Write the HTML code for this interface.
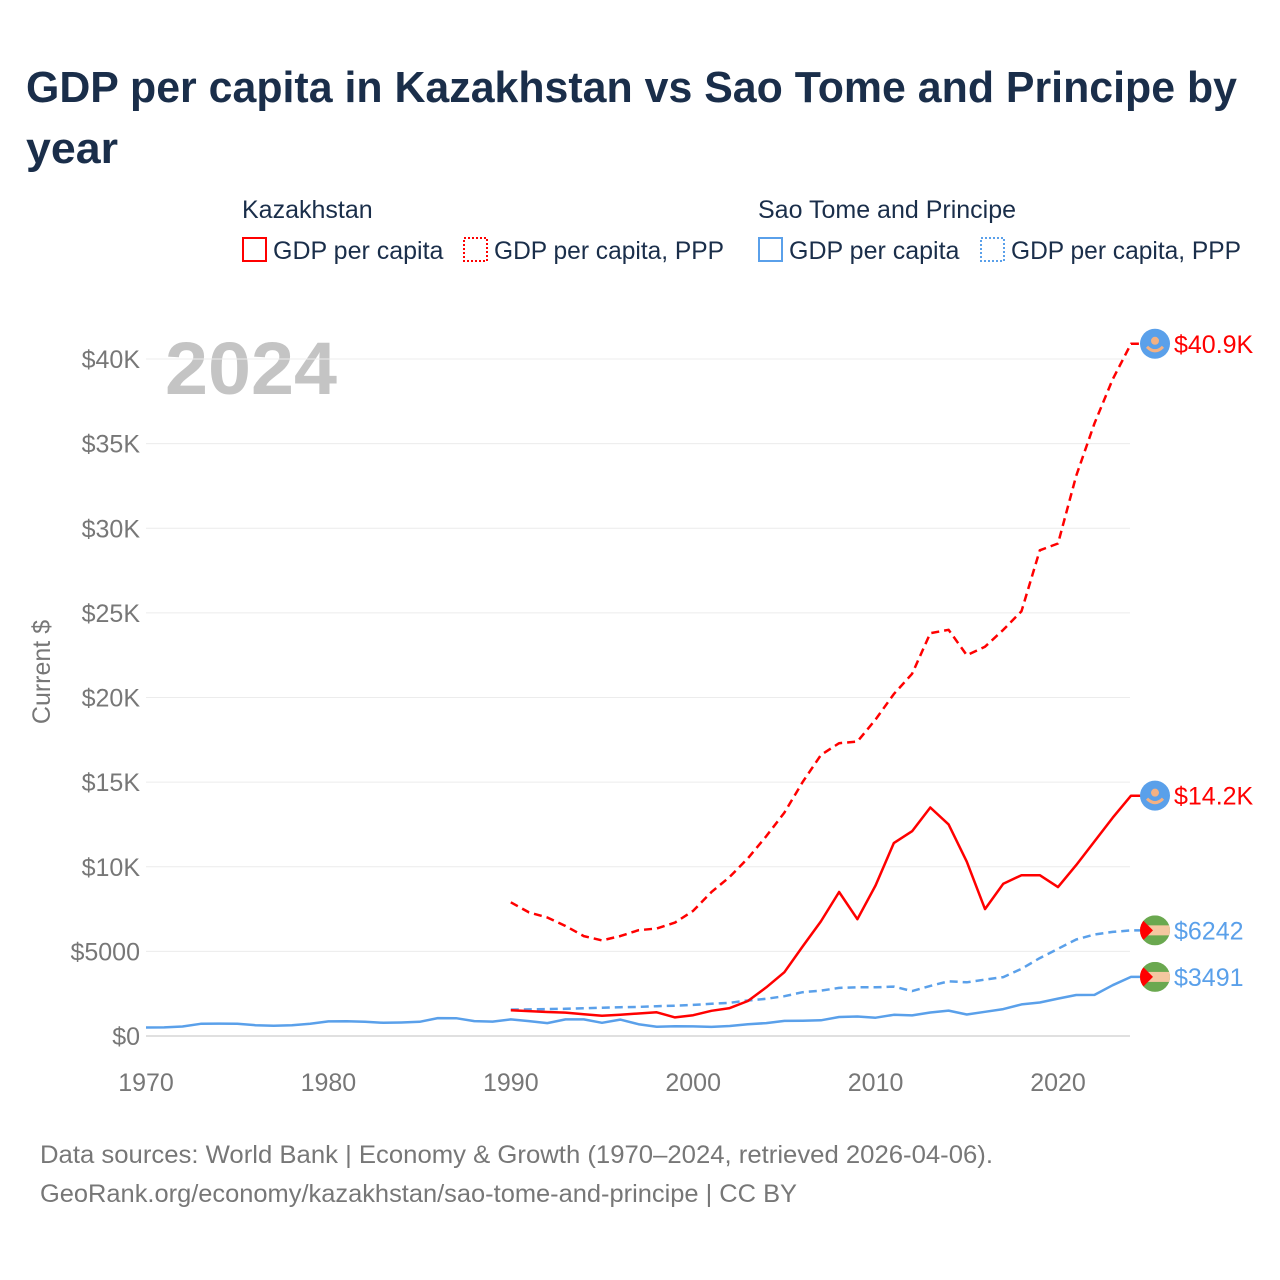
<!DOCTYPE html>
<html><head><meta charset="utf-8"><style>
body{margin:0;background:#fff;font-family:"Liberation Sans",sans-serif;}
#wrap{position:relative;width:1280px;height:1280px;overflow:hidden;}
</style></head><body>
<div id="wrap">
<svg id="chart" width="1280" height="1280" font-family="Liberation Sans, sans-serif">
<text x="26" y="102" font-size="44" font-weight="bold" fill="#1a2e4a" textLength="1211" lengthAdjust="spacingAndGlyphs">GDP per capita in Kazakhstan vs Sao Tome and Principe by</text>
<text x="26" y="163" font-size="44" font-weight="bold" fill="#1a2e4a" textLength="92" lengthAdjust="spacingAndGlyphs">year</text>
<g font-size="25" fill="#1a2e4a">
<text x="242" y="218">Kazakhstan</text>
<rect x="243" y="238" width="23" height="23" fill="none" stroke="#f00" stroke-width="2"/>
<text x="273" y="259">GDP per capita</text>
<rect x="464" y="238" width="23" height="23" fill="none" stroke="#f00" stroke-width="2" stroke-dasharray="2,2"/>
<text x="494" y="259" textLength="230" lengthAdjust="spacingAndGlyphs">GDP per capita, PPP</text>
<text x="758" y="218">Sao Tome and Principe</text>
<rect x="759" y="238" width="23" height="23" fill="none" stroke="#5aa0ea" stroke-width="2"/>
<text x="789" y="259">GDP per capita</text>
<rect x="981" y="238" width="23" height="23" fill="none" stroke="#5aa0ea" stroke-width="2" stroke-dasharray="2,2"/>
<text x="1011" y="259" textLength="230" lengthAdjust="spacingAndGlyphs">GDP per capita, PPP</text>
</g>
<text x="165" y="394" font-size="74" font-weight="bold" fill="#c4c4c4" textLength="172" lengthAdjust="spacingAndGlyphs">2024</text>
<text transform="translate(50,672) rotate(-90)" text-anchor="middle" font-size="25" fill="#777">Current $</text>
<defs><clipPath id="cc1"><circle cx="1155" cy="0" r="15"/></clipPath></defs>
<g id="grid"></g><g id="lines"></g><g id="labels"></g>
<text x="40" y="1163" font-size="25" fill="#777" textLength="953" lengthAdjust="spacingAndGlyphs">Data sources: World Bank | Economy &amp; Growth (1970–2024, retrieved 2026-04-06).</text>
<text x="40" y="1202" font-size="25" fill="#777" textLength="757" lengthAdjust="spacingAndGlyphs">GeoRank.org/economy/kazakhstan/sao-tome-and-principe | CC BY</text>
</svg>
</div>
<script>
const yTicks=[0,5000,10000,15000,20000,25000,30000,35000,40000];
const yTickLabels=["$0","$5000","$10K","$15K","$20K","$25K","$30K","$35K","$40K"];
const xTicks=[1970,1980,1990,2000,2010,2020];
const stpGdp=[500,510,560,720,730,720,640,600,640,720,860,870,840,780,800,840,1060,1050,880,850,980,880,760,980,980,780,970,700,550,580,570,540,590,690,760,890,900,930,1120,1150,1080,1250,1220,1390,1500,1270,1430,1590,1870,1980,2210,2420,2430,3000,3491];
const stpPpp=[1560,1570,1590,1610,1640,1670,1700,1720,1760,1790,1840,1900,1960,2100,2200,2350,2590,2680,2840,2880,2880,2920,2650,2960,3230,3170,3330,3480,3970,4600,5150,5700,6000,6150,6242];
const kzGdp=[1520,1470,1420,1380,1280,1200,1250,1330,1400,1100,1230,1490,1650,2070,2870,3770,5290,6770,8510,6900,8900,11400,12100,13500,12500,10300,7500,9000,9500,9500,8800,10100,11500,12900,14200];
const kzPpp=[7900,7300,7000,6500,5900,5650,5900,6250,6350,6700,7400,8500,9400,10500,11800,13200,15000,16600,17300,17400,18700,20200,21400,23800,24000,22500,23000,24000,25100,28700,29100,33100,36200,38800,40900];
const NS="http://www.w3.org/2000/svg";
const X=y=>146+(y-1970)*18.24;
const Y=v=>1036-v/10000*169.25;
function mk(t,a,p){const e=document.createElementNS(NS,t);for(const k in a)e.setAttribute(k,a[k]);p.appendChild(e);return e;}
const grid=document.getElementById('grid'),lines=document.getElementById('lines'),labels=document.getElementById('labels');
yTicks.forEach((v,i)=>{
 const l=mk('line',{x1:146,x2:1130,y1:Y(v),y2:Y(v),stroke:v===0?'#e0e0e0':'#ececec','stroke-width':v===0?2:1},grid);
 
 
 const t=mk('text',{x:140,y:Y(v)+9,'text-anchor':'end','font-size':25,fill:'#777'},grid);t.textContent=yTickLabels[i];
 
 
});
xTicks.forEach(y=>{
 const t=mk('text',{x:X(y),y:1091,'text-anchor':'middle','font-size':25,fill:'#777'},grid);t.textContent=y;
 
 
});
function series(vals,start,color,dash,name){
 const pts=vals.map((v,i)=>X(start+i).toFixed(1)+','+Y(v).toFixed(1));
 pts.push((X(2024)+10).toFixed(1)+','+Y(vals[vals.length-1]).toFixed(1));
 const p=mk('polyline',{points:pts.join(' '),fill:'none',stroke:color,'stroke-width':2.5,'stroke-dasharray':dash||'none','stroke-linejoin':'round'},lines);
 
 
}
series(stpGdp,1970,'#5aa0ea',null,'line-stp-gdp');
series(stpPpp,1990,'#5aa0ea','8,5','line-stp-ppp');
series(kzGdp,1990,'#f00',null,'line-kz-gdp');
series(kzPpp,1990,'#f00','8,5','line-kz-ppp');
function endLabel(v,txt,color,kz,name){
 const cy=Y(v),cx=1155;
 const g=mk('g',{},labels);
 
 
 if(kz){mk('circle',{cx:cx,cy:cy,r:15,fill:'#5aa0ea'},g);mk('circle',{cx:cx,cy:cy-3,r:4,fill:'#f4b183'},g);mk('path',{d:`M${cx-8} ${cy+3} Q${cx} ${cy+11} ${cx+8} ${cy+3}`,stroke:'#f4b183','stroke-width':3,fill:'none'},g);}
 else{
  const f=mk('g',{transform:`translate(0,${cy})`,'clip-path':'url(#cc1)'},g);
  mk('rect',{x:cx-15,y:-15,width:30,height:30,fill:'#6aa84f'},f);
  mk('rect',{x:cx-15,y:-5,width:30,height:10,fill:'#f4c7a0'},f);
  mk('path',{d:`M${cx-15} -13 L${cx-2} 0 L${cx-15} 13 Z`,fill:'#f00'},f);
 }
 const t=mk('text',{x:1174,y:cy+9,'font-size':25,fill:color},g);t.textContent=txt;
}
endLabel(40900,'$40.9K','#f00',true,'end-label-kz-ppp');
endLabel(14200,'$14.2K','#f00',true,'end-label-kz-gdp');
endLabel(6242,'$6242','#5aa0ea',false,'end-label-stp-ppp');
endLabel(3491,'$3491','#5aa0ea',false,'end-label-stp-gdp');
</script>
</body></html>
